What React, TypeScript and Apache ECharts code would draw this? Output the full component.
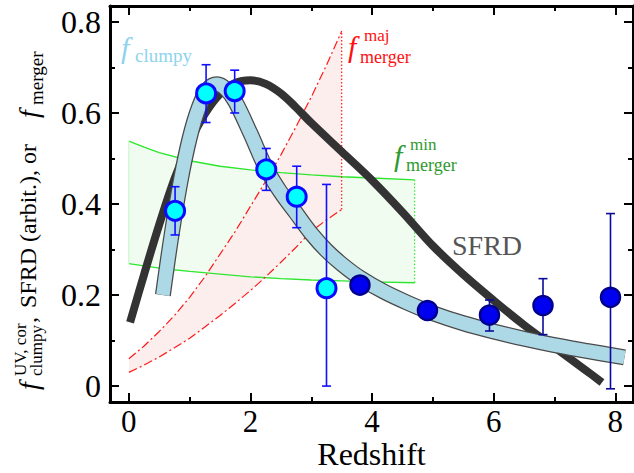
import React, { useEffect, useRef } from "react";
import * as echarts from "echarts";

// ---------- data ----------
const sfrdZ = [0.02, 0.25, 0.5, 0.75, 1.0, 1.25, 1.5, 1.75, 2.0, 2.25, 2.5, 2.75, 3.0, 3.5, 4.0, 4.5, 5.0, 5.5, 6.0, 6.5, 7.0, 7.5, 7.78];
const sfrdV = [0.14, 0.245, 0.355, 0.455, 0.535, 0.598, 0.642, 0.666, 0.672, 0.664, 0.643, 0.612, 0.578, 0.515, 0.452, 0.382, 0.308, 0.245, 0.188, 0.134, 0.085, 0.036, 0.008];

const clumpyZ = [0.56, 0.7, 0.85, 1.0, 1.15, 1.3, 1.45, 1.6, 1.75, 2.0, 2.25, 2.5, 2.75, 3.0, 3.25, 3.5, 3.8, 4.2, 4.6, 5.0, 5.5, 6.0, 6.5, 7.0, 7.5, 8.15];
const clumpyV = [0.2, 0.33, 0.45, 0.545, 0.612, 0.652, 0.663, 0.652, 0.625, 0.555, 0.48, 0.425, 0.38, 0.335, 0.298, 0.268, 0.238, 0.207, 0.182, 0.16, 0.138, 0.12, 0.104, 0.09, 0.078, 0.063];

const majZ = [0, 0.25, 0.5, 0.75, 1.0, 1.25, 1.5, 1.75, 2.0, 2.25, 2.5, 2.75, 3.0, 3.25, 3.5];
const majUpper = [0.06, 0.088, 0.12, 0.155, 0.195, 0.24, 0.29, 0.34, 0.395, 0.45, 0.508, 0.57, 0.635, 0.705, 0.78];
const majLower = [0.03, 0.046, 0.064, 0.084, 0.105, 0.13, 0.155, 0.182, 0.21, 0.24, 0.272, 0.305, 0.34, 0.365, 0.388];

const minZ = [0, 0.25, 0.5, 1.0, 1.5, 2.0, 2.5, 3.0, 3.5, 4.0, 4.7];
const minUpper = [0.538, 0.525, 0.513, 0.495, 0.483, 0.475, 0.469, 0.464, 0.46, 0.457, 0.453];
const minLower = [0.269, 0.264, 0.259, 0.252, 0.246, 0.24, 0.236, 0.233, 0.231, 0.229, 0.227];

// f_clumpy^{UV,cor} measurements (cyan) : z, value, low, high
const cyanZ = [0.76, 1.27, 1.74, 2.26, 2.76, 3.25];
const cyanV = [0.385, 0.643, 0.648, 0.476, 0.416, 0.215];
const cyanLo = [0.332, 0.579, 0.6, 0.43, 0.348, 0.0];
const cyanHi = [0.438, 0.706, 0.694, 0.522, 0.483, 0.443];

// dark blue measurements
const darkZ = [3.8, 4.91, 5.93, 6.81, 7.92];
const darkV = [0.222, 0.166, 0.156, 0.177, 0.195];
const darkLo = [0.222, 0.166, 0.121, 0.113, -0.006];
const darkHi = [0.222, 0.166, 0.189, 0.236, 0.379];

const xMajor = [0, 2, 4, 6, 8];
const xMinor = [1, 3, 5, 7];
const yMajor = [0, 0.2, 0.4, 0.6, 0.8];
const yMinor = [0.1, 0.3, 0.5, 0.7];

const X_MIN = -0.31, X_MAX = 8.29, Y_MIN = -0.035, Y_MAX = 0.835;
const SERIF = "Liberation Serif";

const pairs = (xs: number[], ys: number[]) => xs.map((x, i) => [x, ys[i]]);

function errorSeries(xs: number[], lo: number[], hi: number[], color: string) {
  return {
    type: "custom",
    xAxisIndex: 0,
    yAxisIndex: 0,
    silent: true,
    z: 5,
    data: xs.map((x, i) => [x, lo[i], hi[i]]),
    encode: { x: 0, y: [1, 2] },
    renderItem: (_p: any, api: any) => {
      const x = api.value(0);
      const a = api.coord([x, api.value(2)]);
      const b = api.coord([x, api.value(1)]);
      const st = { stroke: color, lineWidth: 1.6 };
      const c = 4.5;
      return {
        type: "group",
        children: [
          { type: "line", shape: { x1: a[0], y1: a[1], x2: b[0], y2: b[1] }, style: st },
          { type: "line", shape: { x1: a[0] - c, y1: a[1], x2: a[0] + c, y2: a[1] }, style: st },
          { type: "line", shape: { x1: b[0] - c, y1: b[1], x2: b[0] + c, y2: b[1] }, style: st },
        ],
      };
    },
  };
}

function regionSeries(xs: number[], lo: number[], hi: number[], fill: string, z: number) {
  return {
    type: "custom",
    xAxisIndex: 0,
    yAxisIndex: 0,
    silent: true,
    z,
    data: xs.map((x, i) => [x, lo[i], hi[i]]),
    encode: { x: 0, y: [1, 2] },
    renderItem: (params: any, api: any) => {
      if (params.dataIndex !== 0) return { type: "group", children: [] };
      const pts: number[][] = [];
      xs.forEach((x, i) => pts.push(api.coord([x, hi[i]])));
      for (let i = xs.length - 1; i >= 0; i--) pts.push(api.coord([xs[i], lo[i]]));
      return { type: "polygon", shape: { points: pts }, style: { fill } };
    },
  };
}

function xAxisDef(position: string, values: number[], len: number, line: boolean, labels: boolean) {
  return {
    type: "value",
    position,
    min: X_MIN,
    max: X_MAX,
    axisLine: { show: line, onZero: false, lineStyle: { color: "#000", width: 3 } },
    axisTick: { show: true, inside: true, length: len, customValues: values, lineStyle: { color: "#000", width: 2 } },
    axisLabel: labels
      ? { show: true, customValues: values, color: "#000", fontFamily: SERIF, fontSize: 31, margin: 4 }
      : { show: false },
    splitLine: { show: false },
  };
}
function yAxisDef(position: string, values: number[], len: number, line: boolean, labels: boolean) {
  return {
    type: "value",
    position,
    min: Y_MIN,
    max: Y_MAX,
    axisLine: { show: line, onZero: false, lineStyle: { color: "#000", width: 3 } },
    axisTick: { show: true, inside: true, length: len, customValues: values, lineStyle: { color: "#000", width: 2 } },
    axisLabel: labels
      ? { show: true, customValues: values, color: "#000", fontFamily: SERIF, fontSize: 32, margin: 9 }
      : { show: false },
    splitLine: { show: false },
  };
}

function txt(x: number, y: number, text: string, size: number, color: string, italic = false, align = "left") {
  return {
    type: "text",
    x,
    y,
    silent: true,
    style: {
      text,
      fill: color,
      font: `${italic ? "italic " : ""}${size}px ${SERIF}`,
      align,
      textAlign: align,
      verticalAlign: "middle",
      textVerticalAlign: "middle",
    },
  };
}

export default function App() {
  const ref = useRef<HTMLDivElement>(null);
  useEffect(() => {
    document.body.style.margin = "0";
    const chart = echarts.init(ref.current!, null, { renderer: "svg" });
    const redDash = [9, 3, 2, 3];
    const green = "#2ee62e";
    const red = "#ff1a1a";
    const option: any = {
      animation: false,
      backgroundColor: "#fff",
      grid: { left: 110, right: 1, top: 6, bottom: 71, containLabel: false, outerBoundsMode: "none" },
      xAxis: [
        xAxisDef("bottom", xMajor, 9, true, true),
        xAxisDef("top", xMajor, 9, true, false),
        xAxisDef("bottom", xMinor, 5, false, false),
        xAxisDef("top", xMinor, 5, false, false),
      ],
      yAxis: [
        yAxisDef("left", yMajor, 9, true, true),
        yAxisDef("right", yMajor, 9, true, false),
        yAxisDef("left", yMinor, 5, false, false),
        yAxisDef("right", yMinor, 5, false, false),
      ],
      series: [
        // filled regions (opaque pale fills, pink over green)
        regionSeries(minZ, minLower, minUpper, "#f1fcf1", 1),
        regionSeries(majZ, majLower, majUpper, "#fdeeee", 1),
        // f_merger^min boundaries
        { type: "line", data: pairs(minZ, minLower), symbol: "none", z: 2, lineStyle: { color: green, width: 1.4 } },
        { type: "line", data: pairs(minZ, minUpper), symbol: "none", z: 2, lineStyle: { color: green, width: 1.4 } },
        {
          type: "line", data: [[4.7, minLower[minLower.length - 1]], [4.7, minUpper[minUpper.length - 1]]], symbol: "none", z: 2,
          lineStyle: { color: green, width: 1.2, type: [1.5, 2] },
        },
        {
          type: "line", data: [[0, minLower[0]], [0, minUpper[0]]], symbol: "none", z: 2,
          lineStyle: { color: "#c6f2c6", width: 1 },
        },
        // f_merger^maj boundaries
        { type: "line", data: pairs(majZ, majLower), symbol: "none", z: 2, lineStyle: { color: red, width: 1.2, type: redDash } },
        { type: "line", data: pairs(majZ, majUpper), symbol: "none", z: 2, lineStyle: { color: red, width: 1.2, type: redDash } },
        {
          type: "line", data: [[3.5, majLower[majLower.length - 1]], [3.5, majUpper[majUpper.length - 1]]], symbol: "none", z: 2,
          lineStyle: { color: red, width: 1.2, type: [1.5, 2] },
        },
        // SFRD
        {
          type: "line", data: pairs(sfrdZ, sfrdV), symbol: "none", smooth: 0.35, z: 3,
          lineStyle: { color: "#333333", width: 8, cap: "butt" },
        },
        // f_clumpy band (outline + fill)
        {
          type: "line", data: pairs(clumpyZ, clumpyV), symbol: "none", smooth: 0.35, z: 4,
          lineStyle: { color: "#4a4a4a", width: 16, cap: "butt" },
        },
        {
          type: "line", data: pairs(clumpyZ, clumpyV), symbol: "none", smooth: 0.35, z: 4,
          lineStyle: { color: "#add8e6", width: 13.5, cap: "butt" },
        },
        errorSeries(cyanZ, cyanLo, cyanHi, "#1010ff"),
        errorSeries(darkZ, darkLo, darkHi, "#0a0a9a"),
        {
          type: "scatter", data: pairs(cyanZ, cyanV), symbol: "circle", symbolSize: 19, z: 6,
          itemStyle: { color: "#00ffff", borderColor: "#0a0aff", borderWidth: 3, opacity: 1 },
        },
        {
          type: "scatter", data: pairs(darkZ, darkV), symbol: "circle", symbolSize: 19, z: 6,
          itemStyle: { color: "#0000f0", borderColor: "#00008b", borderWidth: 2.5, opacity: 1 },
        },
      ],
      graphic: [
        // x axis title
        txt(371.5, 454, "Redshift", 32, "#000", false, "center"),
        // f_clumpy label
        txt(121, 47, "f", 30, "#8fd3ec", true),
        txt(135, 55, "clumpy", 19, "#8fd3ec"),
        // f_merger^maj label
        txt(348, 46, "f", 30, "#ff1010", true),
        txt(364, 35, "maj", 17, "#ff1010"),
        txt(360, 57, "merger", 18, "#ff1010"),
        // f_merger^min label
        txt(394, 155, "f", 30, "#2e9a2e", true),
        txt(410, 144, "min", 17, "#2e9a2e"),
        txt(406, 165, "merger", 18, "#2e9a2e"),
        // SFRD label
        txt(452, 245, "SFRD", 28, "#555555"),
        // y axis title (rotated)
        {
          type: "group",
          x: 28,
          y: 390,
          rotation: Math.PI / 2,
          silent: true,
          children: [
            txt(0, 0, "f", 28, "#000", true),
            txt(14, -8, "UV, cor", 17, "#000"),
            txt(14, 8, "clumpy", 17, "#000"),
            txt(67, 0, ",", 24, "#000"),
            txt(82, 0, "SFRD (arbit.), or", 24, "#000"),
            txt(272, 0, "f", 28, "#000", true),
            txt(285, 8, "merger", 19, "#000"),
          ],
        },
      ],
    };
    chart.setOption(option);
    return () => chart.dispose();
  }, []);
  return <div ref={ref} style={{ width: 634, height: 473 }} />;
}
